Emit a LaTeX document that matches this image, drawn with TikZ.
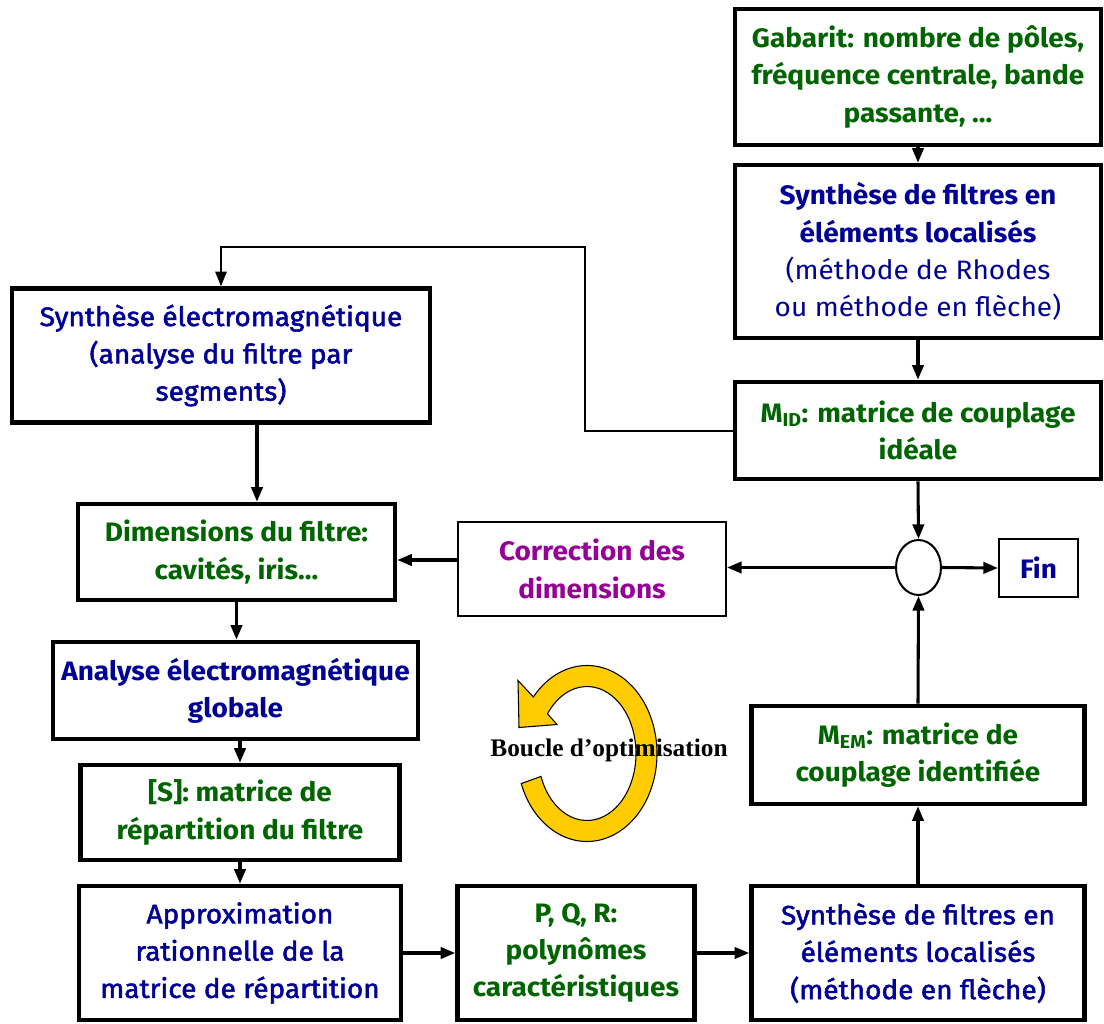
\documentclass[tikz,border=0pt]{standalone}
\usepackage{fontspec}
\setmainfont{Fira Sans}[FakeStretch=1.05]
\newfontfamily\medfont{Fira Sans}[FakeStretch=1.05,FakeBold=2]
\newfontfamily\loopfont{Liberation Serif}
\usetikzlibrary{arrows.meta,shapes.geometric}
\definecolor{blueT}{RGB}{0,0,150}
\definecolor{greenT}{RGB}{0,100,0}
\definecolor{purpleT}{RGB}{150,0,150}
\definecolor{loopyellow}{RGB}{255,204,0}
\tikzset{
  box/.style={draw=black, line width=3.4pt, fill=white, rectangle, inner sep=0pt, align=center,
    font=\fontsize{20}{28}\selectfont},
  thinbox/.style={box, line width=1.5pt},
  bt/.style={text=blueT},
  mt/.style={text=blueT, font=\medfont\fontsize{20}{28}\selectfont},
  gt/.style={text=greenT, font=\fontsize{20}{28}\selectfont\bfseries},
  arr/.style={line width=2.3pt, -{Triangle[length=11pt,width=8.5pt]}},
  fb/.style={line width=1.5pt, -{Triangle[length=11pt,width=8.5pt]}}
}
\begin{document}
\begin{tikzpicture}[x=0.75pt,y=-0.75pt]
\useasboundingbox (0,0) rectangle (1104,1024);

% yellow loop
\coordinate (loopc) at (587,753.5);
\begin{scope}[shift={(loopc)}, x=0.75pt, y=0.75pt]
\filldraw[fill=loopyellow, draw=black, line width=0.8pt]
 ({70*cos(200)},{88*sin(200)}) arc[start angle=200, end angle=500, x radius=70, y radius=88]
 -- (-69,73) -- (-68,26) -- (-30,29) -- ({49*cos(143.7)},{67*sin(143.7)})
 arc[start angle=503.7, end angle=200, x radius=49, y radius=67] -- cycle;
\end{scope}
\node[font=\loopfont\bfseries\fontsize{19}{22}\selectfont] (loop) at (609,750) {Boucle d’optimisation};

% right column
\node[box, gt, minimum width=274.5pt, minimum height=102pt] (gab) at (918,77)
  {Gabarit: nombre de pôles,\\ fréquence centrale, bande\\ passante, ...};
\node[box, bt, minimum width=274.5pt, minimum height=129.75pt] (synt) at (918,251.5)
  {\bfseries Synthèse de filtres en\\ \bfseries éléments localisés\\ (méthode de Rhodes\\ ou méthode en flèche)};
\node[box, gt, minimum width=274.5pt, minimum height=72.75pt] (mid) at (918,430.5)
  {M\textsubscript{ID}: matrice de couplage\\ idéale};
\node[draw=black, line width=1.5pt, fill=white, ellipse, inner sep=0pt, minimum width=33.75pt, minimum height=41.25pt] (circ) at (918.5,567.5) {};
\node[thinbox, text=blueT, font=\fontsize{20}{28}\selectfont\bfseries, minimum width=59.25pt, minimum height=43.5pt] (fin) at (1038.5,568) {Fin};
\node[box, gt, minimum width=249.75pt, minimum height=73.5pt] (mem) at (918,755)
  {M\textsubscript{EM}: matrice de\\ couplage identifiée};
\node[box, mt, minimum width=249.75pt, minimum height=100.5pt] (synb) at (918,953)
  {Synthèse de filtres en\\ éléments localisés\\ (méthode en flèche)};

% middle
\node[thinbox, text=purpleT, font=\fontsize{20}{28}\selectfont\bfseries, minimum width=201pt, minimum height=70.5pt] (corr) at (592,569)
  {Correction des\\ dimensions};
\node[box, gt, minimum width=177.75pt, minimum height=100.5pt] (pqr) at (576,953)
  {P, Q, R:\\ polynômes\\ caractéristiques};

% left column
\node[box, mt, minimum width=313.5pt, minimum height=100.5pt] (sem) at (221,355.5)
  {Synthèse électromagnétique\\ (analyse du filtre par\\ segments)};
\node[box, gt, minimum width=237.75pt, minimum height=72pt] (dim) at (236.5,552)
  {Dimensions du filtre:\\ cavités, iris...};
\node[box, bt, font=\fontsize{20}{28}\selectfont\bfseries, minimum width=273.75pt, minimum height=72.75pt] (ana) at (235.5,690.5)
  {Analyse électromagnétique\\ globale};
\node[box, gt, minimum width=239.25pt, minimum height=71.25pt] (smat) at (240,812.5)
  {[S]: matrice de\\ répartition du filtre};
\node[box, mt, minimum width=241.5pt, minimum height=100.5pt] (appr) at (240,953)
  {Approximation\\ rationnelle de la\\ matrice de répartition};

% connectors
\draw[arr] (gab.south) -- (synt.north);
\draw[arr] (synt.south) -- (mid.north);
\draw[arr] (mid.south) -- (circ.north);
\draw[arr] (synb.north) -- (mem.south);
\draw[arr] (mem.north) -- (circ.south);
\draw[arr] (circ.west) -- (circ.west -| corr.east);
\draw[arr] (circ.east) -- (fin.west);
\draw[arr] ([yshift=6.75pt]corr.west) -- ([yshift=6.75pt]corr.west -| dim.east);
\draw[arr] ([xshift=27pt]sem.south) -- ([xshift=27pt]sem.south |- dim.north);
\draw[arr] (dim.south) -- (dim.south |- ana.north);
\draw[arr] (smat.north |- ana.south) -- (smat.north);
\draw[arr] (smat.south) -- (appr.north);
\draw[arr] (appr.east) -- (pqr.west);
\draw[arr] (pqr.east) -- (synb.west);
\coordinate (fbA) at (585,430);
\coordinate (fbB) at (585,247);
\draw[fb] (mid.west) -- (mid.west -| fbA) -- (fbB) -- (sem.north |- fbB) -- (sem.north);
\end{tikzpicture}
\end{document}
